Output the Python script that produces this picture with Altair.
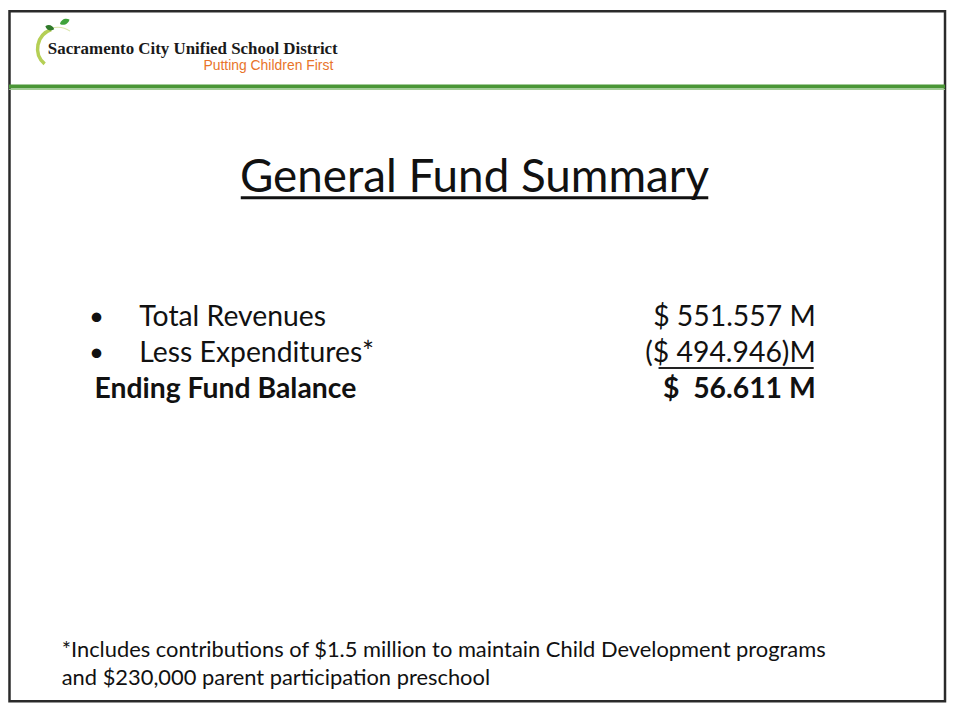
import altair as alt
import pandas as pd

# ---- content ----
district_name = ["Sacramento City Unified School District"]
district_motto = ["Putting Children First"]
title_text = ["General Fund Summary"]
line_labels = ["Total Revenues", "Less Expenditures*"]
total_label = ["Ending Fund Balance"]
line_values = ["$ 551.557 M", "($ 494.946)M"]
total_value = ["$\u00a0\u00a056.611 M"]
footnote_lines = [
    "*Includes contributions of $1.5 million to maintain Child Development programs",
    "and $230,000 parent participation preschool",
]

W, H = 944, 697
OFF = 8  # page margin: screen coordinate -> chart coordinate


def sx(v):
    return v - OFF


BODY_FONT = "Lato"
TEXT_COLOR = "#111111"


def text_layer(texts, x, y, size, font=BODY_FONT, weight="normal", align="left",
               color=TEXT_COLOR, baseline="alphabetic"):
    df = pd.DataFrame({"t": texts})
    return alt.Chart(df).mark_text(
        align=align, baseline=baseline, font=font, fontSize=size,
        fontWeight=weight, color=color
    ).encode(
        text="t:N",
        x=alt.value(sx(x)),
        y=alt.value(sx(y)),
    )


def rule_layer(x1, x2, y, width, color):
    return alt.Chart().mark_rule(strokeWidth=width, color=color).encode(
        x=alt.value(sx(x1)), x2=alt.value(sx(x2)), y=alt.value(sx(y))
    )


layers = []

# frame
layers.append(
    alt.Chart().mark_rect(fillOpacity=0, stroke="#2a2a2a", strokeWidth=2.5).encode(
        x=alt.value(1.5), x2=alt.value(W - 2), y=alt.value(1.5), y2=alt.value(H - 2)
    )
)

# green header line
layers.append(rule_layer(9, 950, 85, 4, "#4a9636"))
layers.append(rule_layer(9, 950, 88, 1, "#9cc98e"))

# apple logo
layers.append(
    alt.Chart().mark_arc(radius=22, radius2=18.5, theta=3.85, theta2=5.95,
                         color="#b5cf55").encode(
        x=alt.value(sx(58)), y=alt.value(sx(47))
    )
)
layers.append(
    alt.Chart().mark_arc(radius=22, radius2=21, theta=5.95, theta2=6.9,
                         color="#d9e6a8").encode(
        x=alt.value(sx(58)), y=alt.value(sx(47))
    )
)
leaf = "M-1,0 C-0.5,-0.7 0.5,-0.7 1,0 C0.5,0.7 -0.5,0.7 -1,0 Z"
layers.append(
    alt.Chart().mark_point(shape=leaf, filled=True, size=90, angle=20,
                           color="#2f7a2a", opacity=1).encode(
        x=alt.value(sx(50)), y=alt.value(sx(26))
    )
)
layers.append(
    alt.Chart().mark_point(shape=leaf, filled=True, size=110, angle=155,
                           color="#3fa33a", opacity=1).encode(
        x=alt.value(sx(65)), y=alt.value(sx(20))
    )
)

# district header
layers.append(text_layer(district_name, 48, 52, 17, font="Liberation Serif",
                         weight="bold", color="#1a1a1a"))
layers.append(text_layer(district_motto, 335, 68, 14, font="Liberation Sans",
                         align="right", color="#e8742a"))

# title
layers.append(text_layer(title_text, 477, 191, 46, align="center"))
layers.append(rule_layer(242, 712, 197, 3, "#111111"))

# bullets and labels
ys = [326, 362]
for lbl, val, y in zip(line_labels, line_values, ys):
    layers.append(text_layer(["\u2022"], 97, y - 9, 26, align="center", baseline="middle"))
    layers.append(text_layer([lbl], 140, y, 28.5))
    layers.append(text_layer([val], 820, y, 28.5, align="right"))
layers.append(rule_layer(662, 818, 368, 2, "#222222"))
layers.append(text_layer(total_label, 95, 398, 28.5, weight="bold"))
layers.append(text_layer(total_value, 820, 398, 28.5, weight="bold", align="right"))

# footnote
layers.append(text_layer([footnote_lines[0]], 62, 659, 22))
layers.append(text_layer([footnote_lines[1]], 62, 687, 22))

chart = alt.layer(*layers).properties(
    width=W, height=H, padding=0, autosize="none"
).configure_view(stroke=None)

chart.save("out.html", embed_options={"renderer": "svg", "actions": False})
